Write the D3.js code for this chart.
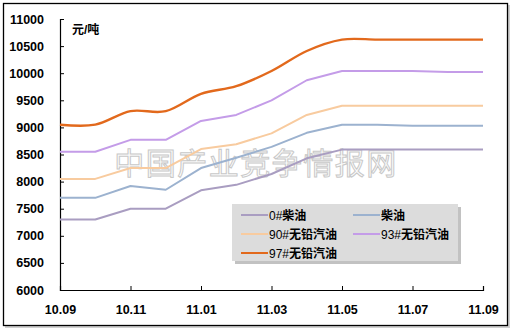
<!DOCTYPE html>
<html>
<head>
<meta charset="utf-8">
<script src="https://cdn.jsdelivr.net/npm/d3@7"></script>
<style>
  html, body { margin: 0; padding: 0; background: #fff; }
  svg { display: block; }
  text { font-family: "Liberation Sans", Arial, "Noto Sans CJK SC", sans-serif; }
</style>
</head>
<body>
<svg id="chart" width="513" height="330"></svg>
<script>
// Monthly fuel price (元/吨), 2010.09 – 2011.09
const months = ["10.09","10.10","10.11","10.12","11.01","11.02","11.03","11.04","11.05","11.06","11.07","11.08","11.09"];
const tickMonths = ["10.09","10.11","11.01","11.03","11.05","11.07","11.09"];
const yTicks = [6000, 6500, 7000, 7500, 8000, 8500, 9000, 9500, 10000, 10500, 11000];

const diesel0  = [7300, 7300, 7500, 7500, 7840, 7940, 8140, 8430, 8590, 8590, 8590, 8590, 8590];
const diesel   = [7700, 7700, 7920, 7850, 8250, 8440, 8640, 8900, 9050, 9050, 9030, 9030, 9030];
const gas90    = [8050, 8050, 8250, 8250, 8600, 8690, 8890, 9230, 9400, 9400, 9400, 9400, 9400];
const gas93    = [8550, 8550, 8770, 8770, 9120, 9230, 9500, 9870, 10040, 10040, 10040, 10020, 10020];
const gas97    = [9050, 9050, 9300, 9300, 9620, 9760, 10040, 10410, 10620, 10620, 10620, 10620, 10620];

const seriesNames = ["0#柴油", "柴油", "90#无铅汽油", "93#无铅汽油", "97#无铅汽油"];
const seriesValues = [diesel0, diesel, gas90, gas93, gas97];
const seriesColors = ["#a99dc1", "#9cb2cf", "#f8cb9f", "#c49ce8", "#e2691c"];

const svg = d3.select("#chart");

// outer frame with a faint shadow
svg.append("rect").attr("x", 5).attr("y", 5).attr("width", 505).attr("height", 323)
  .attr("fill", "#d0d0d0");
svg.append("rect").attr("x", 3.5).attr("y", 3.5).attr("width", 504).attr("height", 322)
  .attr("fill", "#fff").attr("stroke", "#000").attr("stroke-width", 1.3);

const x = d3.scalePoint().domain(months).range([60, 483]);
const y = d3.scaleLinear().domain([6000, 11000]).range([290, 19]);

// watermark
svg.append("text")
  .attr("x", 256).attr("y", 174)
  .attr("text-anchor", "middle")
  .attr("font-family", "Noto Sans CJK SC")
  .attr("font-size", 30)
  .attr("letter-spacing", 1.5)
  .attr("fill", "#fcfcfc")
  .attr("stroke", "#c8c8c8")
  .attr("stroke-width", 1)
  .text("中国产业竞争情报网");

// axes
const yAxis = d3.axisLeft(y).tickValues(yTicks).tickFormat(d3.format("d")).tickSize(-4).tickPadding(16);
const gy = svg.append("g").attr("transform", "translate(60,0)").call(yAxis);
gy.select(".domain").attr("stroke", "#000").attr("stroke-width", 1.2);
gy.selectAll(".tick line").attr("stroke", "#000");
gy.selectAll(".tick text")
  .attr("font-size", 12.5).attr("font-weight", "bold").attr("fill", "#000")
  .attr("font-family", "Liberation Sans, Arial, sans-serif");

const xAxis = d3.axisBottom(x).tickValues(tickMonths).tickSize(-4).tickPadding(15);
const gx = svg.append("g").attr("transform", "translate(0,290)").call(xAxis);
gx.select(".domain").attr("stroke", "#000").attr("stroke-width", 1.2);
gx.selectAll(".tick line").attr("stroke", "#000");
gx.selectAll(".tick text")
  .attr("font-size", 12.5).attr("font-weight", "bold").attr("fill", "#000")
  .attr("font-family", "Liberation Sans, Arial, sans-serif");

// unit label
svg.append("text").attr("x", 72).attr("y", 34)
  .attr("font-size", 12).attr("font-weight", "bold")
  .attr("font-family", "Noto Sans CJK SC").attr("fill", "#000")
  .text("元/吨");

// series lines
const linear = d3.line().x((d, i) => x(months[i])).y(d => y(d));
const smooth = d3.line().x((d, i) => x(months[i])).y(d => y(d)).curve(d3.curveCardinal.tension(0));
seriesValues.forEach((vals, k) => {
  svg.append("path")
    .attr("d", (k === 4 ? smooth : linear)(vals))
    .attr("fill", "none")
    .attr("stroke", seriesColors[k])
    .attr("stroke-width", k === 4 ? 2.4 : 2)
    .attr("stroke-linejoin", "round");
});

// legend
const lg = svg.append("g");
lg.append("rect").attr("x", 235).attr("y", 207).attr("width", 226).attr("height", 57).attr("fill", "#a8a8a8").attr("opacity", 0.7);
lg.append("rect").attr("x", 232).attr("y", 204).attr("width", 226).attr("height", 57).attr("fill", "#dcdcdc");
const legendPos = [[241, 215], [353, 215], [241, 234], [353, 234], [241, 253]];
seriesNames.forEach((name, k) => {
  const [lx, ly] = legendPos[k];
  lg.append("line").attr("x1", lx).attr("x2", lx + 27).attr("y1", ly).attr("y2", ly)
    .attr("stroke", seriesColors[k]).attr("stroke-width", 2);
  const t = lg.append("text").attr("x", lx + 28).attr("y", ly + 4.5)
    .attr("font-size", 12).attr("fill", "#000");
  const m = name.match(/^([0-9#]*)(.*)$/);
  if (m[1]) t.append("tspan").attr("font-family", "Liberation Sans, Arial").text(m[1]);
  t.append("tspan").attr("font-family", "Noto Sans CJK SC").attr("font-weight", "bold").text(m[2]);
});
</script>
</body>
</html>
